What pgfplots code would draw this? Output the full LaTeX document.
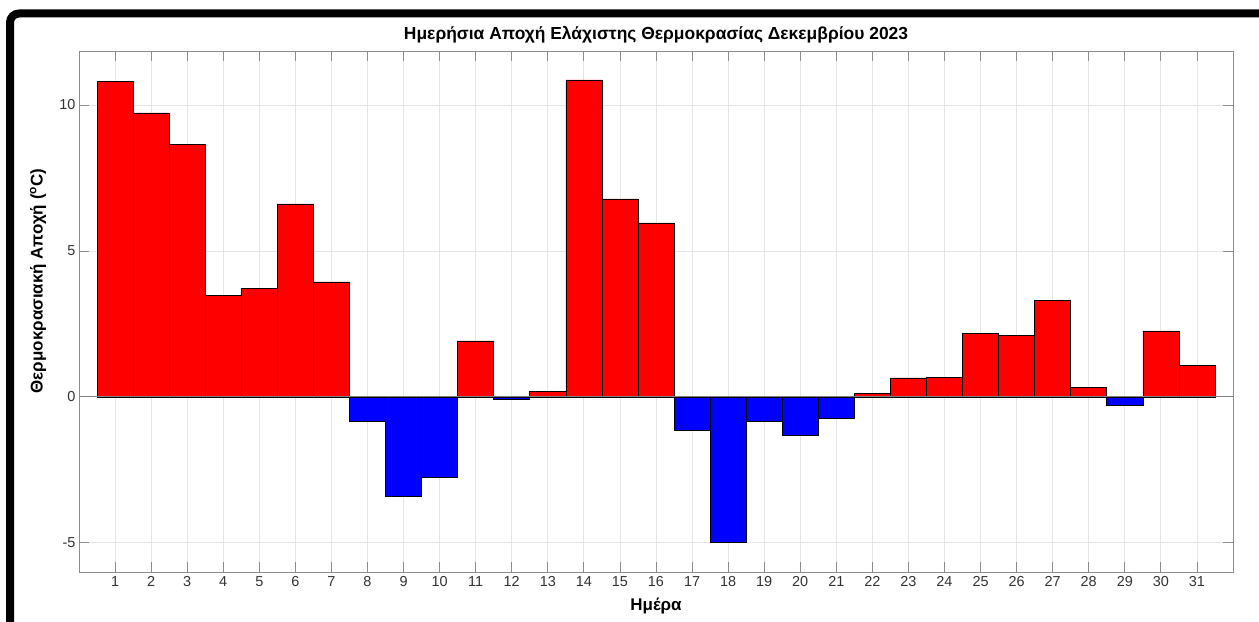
\documentclass[border=0pt]{standalone}
\usepackage{pgfplots}
\pgfplotsset{compat=1.18}
\usepackage{fontspec}
\setmainfont{Liberation Sans}

\begin{document}
\begin{tikzpicture}
\useasboundingbox (0bp,0bp) rectangle (1259bp,622bp);
\fill[white] (0bp,0bp) rectangle (1259bp,622bp);
% outer frame of the screenshot
\draw[black, line width=8bp, rounded corners=9bp] (10bp,-30bp) -- (10bp,608.5bp) -- (1259bp,608.5bp);
\begin{axis}[
    at={(79bp,50bp)}, anchor=south west,
    scale only axis, width=1154bp, height=521bp,
    xmin=0, xmax=32, ymin=-6, ymax=11.85,
    xtick={1,...,31}, ytick={-5,0,5,10},
    tick align=inside, major tick length=10bp,
    axis line style={black!45, line width=0.8bp},
    tick style={black!45, line width=0.8bp},
    grid=major, major grid style={black!10, line width=0.8bp},
    /pgf/number format/assume math mode=true,
    ticklabel style={font=\fontsize{14.5}{16}\selectfont, text=black!80},
    xticklabel style={yshift=-1bp},
    title={Ημερήσια Αποχή Ελάχιστης Θερμοκρασίας Δεκεμβρίου 2023},
    title style={font=\bfseries\fontsize{17.5}{19}\selectfont, at={(axis description cs:0.5,1.019)}, anchor=center},
    xlabel={Ημέρα},
    xlabel style={font=\bfseries\fontsize{17}{19}\selectfont, at={(axis description cs:0.5,-0.065)}, anchor=center},
    ylabel={Θερμοκρασιακή Αποχή (\textsuperscript{o}C)},
    ylabel style={font=\bfseries\fontsize{17}{19}\selectfont, at={(axis description cs:-0.0355,0.5585)}, anchor=center},
]
% positive anomalies
\addplot[ybar, bar width=1, bar shift=0pt, fill=red, draw=black, line width=0.6bp]
    coordinates {
        (1,10.82) (2,9.73) (3,8.66) (4,3.49) (5,3.73) (6,6.61) (7,3.94)
        (11,1.92) (13,0.20) (14,10.86) (15,6.78) (16,5.96)
        (22,0.13) (23,0.65) (24,0.67) (25,2.17) (26,2.10) (27,3.30) (28,0.33)
        (30,2.26) (31,1.07)
    };
% negative anomalies
\addplot[ybar, bar width=1, bar shift=0pt, fill=blue, draw=black, line width=0.6bp]
    coordinates {
        (8,-0.82) (9,-3.42) (10,-2.74) (12,-0.10)
        (17,-1.13) (18,-4.97) (19,-0.82) (20,-1.30) (21,-0.75)
        (29,-0.28)
    };
% bar baseline
\addplot[black!50, line width=0.8bp, no marks] coordinates {(0,0) (32,0)};
\end{axis}
\end{tikzpicture}
\end{document}
